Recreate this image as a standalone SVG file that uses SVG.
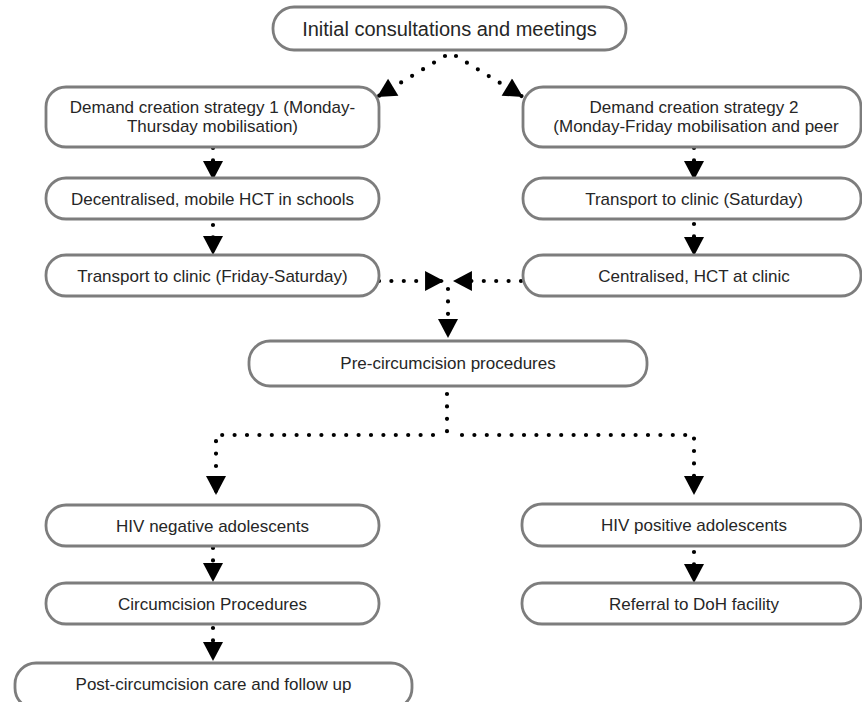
<svg xmlns="http://www.w3.org/2000/svg" width="862" height="702" viewBox="0 0 862 702">
<defs>
<marker id="ah" markerUnits="userSpaceOnUse" markerWidth="20" markerHeight="20" refX="18" refY="9.5" orient="auto" viewBox="0 0 18 19">
<path d="M0,0 L18,9.5 L0,19 z" fill="#000"/>
</marker>
<style>
.box{fill:#fff;stroke:#7d7d7d;stroke-width:2.8}
.t{font-family:"Liberation Sans",Arial,Helvetica,sans-serif;font-size:17px;fill:#262626;text-anchor:middle}
.big{font-size:20px}
.c{fill:none;stroke:#000;stroke-width:4.2;stroke-linecap:round;stroke-dasharray:0 12.4;marker-end:url(#ah)}
.cn{fill:none;stroke:#000;stroke-width:4.2;stroke-linecap:round;stroke-dasharray:0 12.4}
</style>
</defs>
<rect width="862" height="702" fill="#fff"/>

<g id="connectors">
<path class="c" d="M445,56 L377,97" style="stroke-dasharray:0 12.8"/>
<path class="c" d="M456,56 L523,97" style="stroke-dasharray:0 12.8"/>
<path class="c" d="M213,148 L213,180"/>
<path class="c" d="M213,225 L213,255"/>
<path class="c" d="M694,148 L694,180"/>
<path class="c" d="M694,224 L694,256"/>
<path class="c" d="M379,281 L444,281"/>
<path class="c" d="M521,281 L453,281"/>
<path class="c" d="M448,289 L448,338"/>
<path class="cn" d="M447,394 L447,432"/>
<path class="c" d="M433,435 L216,435 L216,495"/>
<path class="c" d="M462,435 L694,435 L694,495"/>
<path class="c" d="M213,548 L213,582"/>
<path class="c" d="M213,628 L213,661"/>
<path class="c" d="M694,552 L694,583"/>
</g>

<g id="n1"><rect class="box" x="273" y="7" width="353" height="43" rx="21"/><text class="t big" x="449.5" y="36">Initial consultations and meetings</text></g>
<g id="n2"><rect class="box" x="46" y="87" width="333" height="60" rx="20"/><text class="t" x="212.5" y="113">Demand creation strategy 1 (Monday-</text><text class="t" x="212.5" y="132">Thursday mobilisation)</text></g>
<g id="n3"><rect class="box" x="523" y="87" width="338" height="60" rx="20"/><text class="t" x="694" y="113">Demand creation strategy 2</text><text class="t" x="696" y="132">(Monday-Friday mobilisation and peer</text></g>
<g id="n4"><rect class="box" x="46" y="178" width="333" height="41" rx="20"/><text class="t" x="212.5" y="205">Decentralised, mobile HCT in schools</text></g>
<g id="n5"><rect class="box" x="523" y="178" width="338" height="41" rx="20"/><text class="t" x="694" y="205">Transport to clinic (Saturday)</text></g>
<g id="n6"><rect class="box" x="46" y="255" width="333" height="41" rx="20"/><text class="t" x="212.5" y="282">Transport to clinic (Friday-Saturday)</text></g>
<g id="n7"><rect class="box" x="523" y="255" width="338" height="41" rx="20"/><text class="t" x="694" y="282">Centralised, HCT at clinic</text></g>
<g id="n8"><rect class="box" x="249" y="341" width="398" height="45" rx="21"/><text class="t" x="448" y="369">Pre-circumcision procedures</text></g>
<g id="n9"><rect class="box" x="46" y="505" width="333" height="41" rx="20"/><text class="t" x="212.5" y="532">HIV negative adolescents</text></g>
<g id="n10"><rect class="box" x="46" y="583" width="333" height="41" rx="20"/><text class="t" x="212.5" y="610">Circumcision Procedures</text></g>
<g id="n11"><rect class="box" x="15" y="663" width="397" height="46" rx="21"/><text class="t" x="213.5" y="690">Post-circumcision care and follow up</text></g>
<g id="n12"><rect class="box" x="522" y="504" width="339" height="42" rx="20"/><text class="t" x="694" y="531">HIV positive adolescents</text></g>
<g id="n13"><rect class="box" x="522" y="583" width="339" height="41" rx="20"/><text class="t" x="694" y="610">Referral to DoH facility</text></g>
</svg>
